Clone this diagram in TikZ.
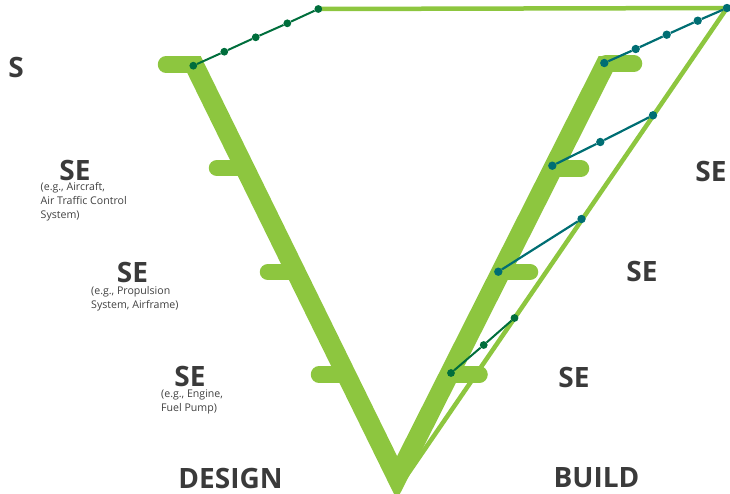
\documentclass[tikz,border=0pt]{standalone}
\usepackage{fontspec}
\setmainfont{Open Sans}
\definecolor{lg}{RGB}{141,198,63}
\definecolor{dg}{RGB}{0,110,60}
\definecolor{tl}{RGB}{0,110,115}
\definecolor{tx}{RGB}{58,58,58}
\definecolor{tx2}{RGB}{64,64,64}
\tikzset{
  band/.style={draw=lg, line width=19.5pt, miter limit=20},
  stub/.style={draw=lg, line width=16.5pt, line cap=round},
  thinline/.style={draw=lg, line width=4.5pt},
  gdot/.style={circle, fill=dg, inner sep=0pt, minimum size=7.8pt},
  tdot/.style={circle, fill=tl, inner sep=0pt, minimum size=8.4pt},
  gline/.style={draw=dg, line width=2pt},
  tline/.style={draw=tl, line width=2.2pt},
  big/.style={font=\bfseries\fontsize{28}{30}\selectfont, text=tx, inner sep=0pt},
  small/.style={font=\fontsize{10.6}{14}\selectfont, text=tx2, inner sep=0pt, align=left, anchor=north west},
}
\begin{document}
\begin{tikzpicture}[x=1pt,y=-1pt]
\useasboundingbox (0,0) rectangle (730,493);
% key coordinates
\coordinate (V) at (397,478);
\coordinate (T) at (727,8);
\coordinate (TL) at (318.3,9);
\coordinate (TB) at (405,478);
% thin green lines
\draw[thinline] (TL) -- (T);
\draw[thinline] (T) -- (TB);
% thick V band
\begin{scope}
  \clip (0,56) rectangle (730,520);
  \draw[band] (184.4,45) -- (V) -- (615.2,45);
\end{scope}
% stubs left
\draw[stub] (166,64.5) -- (190,64.5);
\draw[stub] (217,168) -- (244.8,168);
\draw[stub] (268,272) -- (295.9,272);
\draw[stub] (319,374.5) -- (346.2,374.5);
% stubs right
\draw[stub] (634,63.5) -- (605.9,63.5);
\draw[stub] (581,168.5) -- (553,168.5);
\draw[stub] (530,272) -- (500.8,272);
\draw[stub] (479.5,374.5) -- (449.2,374.5);
% top-left dotted connector
\node[gdot] (a1) at (193.3,65.7) {};
\node[gdot] (a2) at (224.3,51.7) {};
\node[gdot] (a3) at (255.7,37.3) {};
\node[gdot] (a4) at (287.3,23.3) {};
\node[gdot] (a5) at (318.3,9) {};
\draw[gline] (a1) -- (a2) -- (a3) -- (a4) -- (a5);
% right connectors
\node[tdot] (b1) at (727,8) {};
\node[tdot] (b2) at (697.7,20.7) {};
\node[tdot] (b3) at (666.7,34.7) {};
\node[tdot] (b4) at (635.7,49) {};
\node[tdot] (b5) at (604.3,63) {};
\draw[tline] (b1) -- (b2) -- (b3) -- (b4) -- (b5);
\node[tdot] (c1) at (653,115.3) {};
\node[tdot] (c2) at (600.3,142) {};
\node[tdot] (c3) at (552.3,165.7) {};
\draw[tline] (c1) -- (c2) -- (c3);
\node[tdot] (e1) at (581.5,219) {};
\node[tdot] (e2) at (498.3,271.7) {};
\draw[tline] (e1) -- (e2);
\node[gdot] (f1) at (514.5,318) {};
\node[gdot] (f2) at (483.7,345) {};
\node[gdot] (f3) at (451,373) {};
\draw[gline] (f1) -- (f2) -- (f3);
% texts
\node[big] (s0) at (16,67) {S};
\node[big] (se1) at (75,170) {SE};
\node[small] (sub1) at (40.5,182) {(e.g., Aircraft,\\Air Traffic Control\\System)};
\node[big] (se2) at (132.5,272.5) {SE};
\node[small] (sub2) at (91,286.5) {(e.g., Propulsion\\System, Airframe)};
\node[big] (se3) at (190,376) {SE};
\node[small] (sub3) at (161,389.5) {(e.g., Engine,\\Fuel Pump)};
\node[big] (design) at (230.5,478) {DESIGN};
\node[big] (build) at (596.5,477.5) {BUILD};
\node[big] (rse1) at (711,171) {SE};
\node[big] (rse2) at (642,271.5) {SE};
\node[big] (rse3) at (574,377) {SE};
\end{tikzpicture}
\end{document}
